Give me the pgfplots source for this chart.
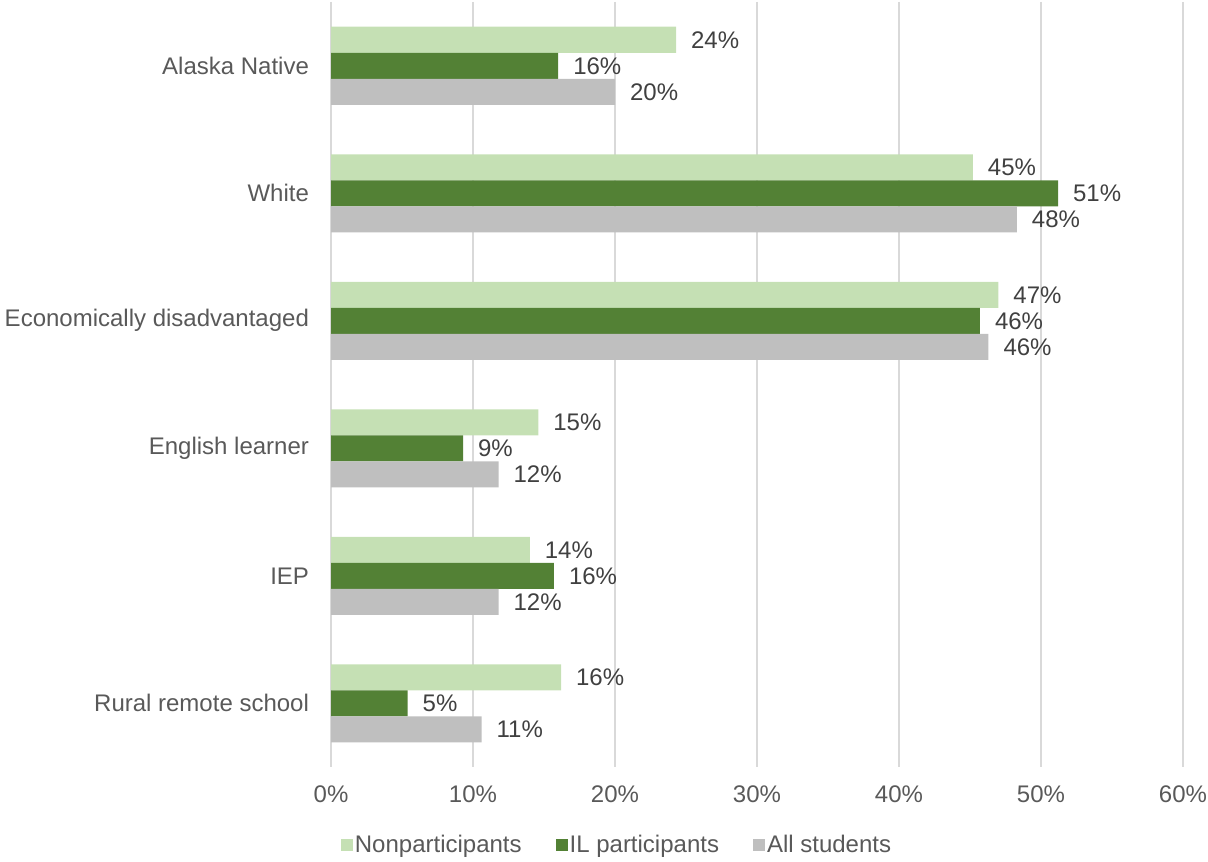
\documentclass[border=0pt]{standalone}
\usepackage{pgfplots}
\pgfplotsset{compat=1.18}
\usepackage{fontspec}
\setmainfont{Liberation Sans}
\definecolor{lgreen}{HTML}{C5E0B4}
\definecolor{dgreen}{HTML}{538135}
\definecolor{lgray}{HTML}{BFBFBF}
\definecolor{gridc}{HTML}{D9D9D9}
\definecolor{labc}{HTML}{595959}
\definecolor{valc}{HTML}{404040}
\begin{document}
\begin{tikzpicture}
\path[use as bounding box] (0,0) rectangle (604pt,430.5pt);
\begin{axis}[
 at={(165.5pt,47pt)}, anchor=south west,
 scale only axis, width=426pt, height=382.5pt,
 xbar, bar width=13pt,
 xmin=0, xmax=60, ymin=-0.5, ymax=5.5, y dir=reverse,
 axis line style={draw=none},
 major tick length=0pt,
 xmajorgrids, grid style={gridc, line width=0.9pt},
 xtick={0,10,...,60}, xticklabels={0\%,10\%,20\%,30\%,40\%,50\%,60\%},
 ytick={0,...,5},
 yticklabels={Alaska Native, White, Economically disadvantaged, English learner, IEP, Rural remote school},
 tick label style={font=\fontsize{12pt}{14pt}\selectfont, text=labc},
 yticklabel style={xshift=-7.5pt},
 xticklabel style={yshift=-6pt},
 /pgf/number format/assume math mode=true,
 point meta=x,
 nodes near coords={\pgfmathprintnumber[fixed,precision=0,assume math mode=true]{\pgfplotspointmeta}\%},
 every node near coord/.append style={font=\fontsize{12pt}{14pt}\selectfont, text=valc, xshift=4pt},
 legend style={at={(0.3357,-0.102)}, anchor=center, draw=none, legend columns=3,
   font=\fontsize{12pt}{14pt}\selectfont, text=labc,
   nodes={inner sep=1pt},
   /tikz/every even column/.append style={column sep=16pt}},
 legend image code/.code={\fill[#1] (0pt,-3pt) rectangle (6pt,3pt);},
]
\addplot[fill=lgreen, draw=none, bar shift=13pt] coordinates {(24.3,0) (45.2,1) (47.0,2) (14.6,3) (14.0,4) (16.2,5)};
\addplot[fill=dgreen, draw=none, bar shift=0pt] coordinates {(16.0,0) (51.2,1) (45.7,2) (9.3,3) (15.7,4) (5.4,5)};
\addplot[fill=lgray, draw=none, bar shift=-13pt] coordinates {(20.0,0) (48.3,1) (46.3,2) (11.8,3) (11.8,4) (10.6,5)};
\legend{Nonparticipants, IL participants, All students}
\end{axis}
\end{tikzpicture}
\end{document}
